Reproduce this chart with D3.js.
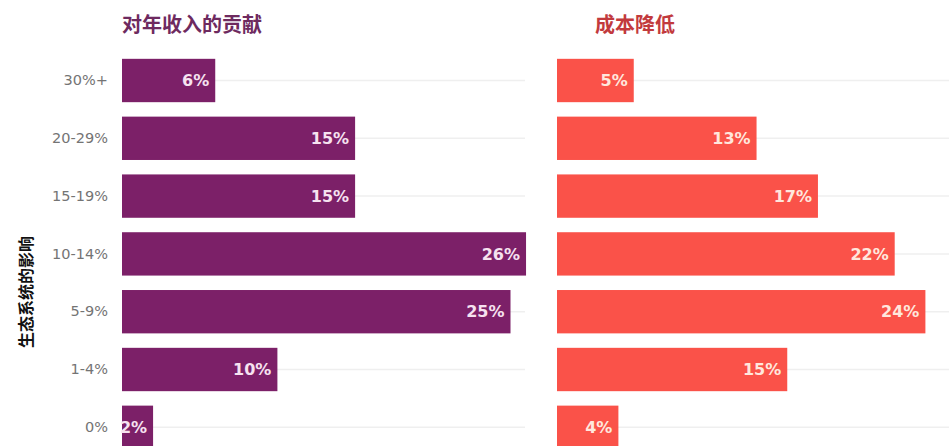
<!DOCTYPE html>
<html>
<head>
<meta charset="utf-8">
<script src="https://cdn.jsdelivr.net/npm/d3@7"></script>
<style>
  html, body { margin: 0; padding: 0; background: #fff; }
  svg { display: block; }
</style>
</head>
<body>
<svg id="chart" width="949" height="446"></svg>
<script>
// Impact on the ecosystem, by bucket
const categories = ["30%+", "20-29%", "15-19%", "10-14%", "5-9%", "1-4%", "0%"];
const revenueValues = [6, 15, 15, 26, 25, 10, 2];
const costValues = [5, 13, 17, 22, 24, 15, 4];
const panelTitles = ["对年收入的贡献", "成本降低"];
const axisTitle = "生态系统的影响";

const svg = d3.select("#chart");
const W = 949;

const y = d3.scaleBand()
  .domain(categories)
  .range([51.6, 51.6 + 7 * 57.8])
  .paddingInner(0.25)
  .paddingOuter(0.125);

const panels = [
  { title: panelTitles[0], values: revenueValues, x0: 122, pxPer: 15.54, gridEnd: 525,
    fill: "#7c2068", labelFill: "#f6e2f0", titleFill: "#6e2a5f", titleX: 122 },
  { title: panelTitles[1], values: costValues, x0: 557, pxPer: 15.35, gridEnd: W,
    fill: "#fa5249", labelFill: "#ffe7dd", titleFill: "#c23a3d", titleX: 595 }
];

panels.forEach(p => {
  const maxV = d3.max(p.values);
  const x = d3.scaleLinear().domain([0, maxV]).range([p.x0, p.x0 + maxV * p.pxPer]);
  const g = svg.append("g");

  // faint row guides
  g.selectAll("line.grid")
    .data(categories)
    .join("line")
    .attr("class", "grid")
    .attr("x1", p.x0)
    .attr("x2", p.gridEnd)
    .attr("y1", d => y(d) + y.bandwidth() / 2)
    .attr("y2", d => y(d) + y.bandwidth() / 2)
    .attr("stroke", "#efefef")
    .attr("stroke-width", 1.5);

  g.selectAll("rect.bar")
    .data(p.values)
    .join("rect")
    .attr("class", "bar")
    .attr("x", x(0))
    .attr("y", (d, i) => y(categories[i]))
    .attr("width", d => x(d) - x(0))
    .attr("height", y.bandwidth())
    .attr("fill", p.fill);

  g.selectAll("text.val")
    .data(p.values)
    .join("text")
    .attr("class", "val")
    .attr("x", d => x(d) - 6)
    .attr("y", (d, i) => y(categories[i]) + y.bandwidth() / 2)
    .attr("dy", "0.36em")
    .attr("text-anchor", "end")
    .attr("font-family", "DejaVu Sans, Verdana, sans-serif")
    .attr("font-weight", "bold")
    .attr("font-size", 16)
    .attr("fill", p.labelFill)
    .text(d => d + "%");

  svg.append("text")
    .attr("x", p.titleX)
    .attr("y", 25)
    .attr("dy", "0.36em")
    .attr("font-family", "Noto Sans CJK SC, sans-serif")
    .attr("font-weight", "bold")
    .attr("font-size", 20)
    .attr("fill", p.titleFill)
    .text(p.title);
});

// category axis on the left
const yAxis = d3.axisLeft(y).tickSize(0).tickPadding(0);
const ag = svg.append("g")
  .attr("transform", "translate(108,0)")
  .call(yAxis);
ag.select(".domain").remove();
ag.selectAll("text")
  .attr("font-family", "DejaVu Sans, Verdana, sans-serif")
  .attr("font-size", 14.5)
  .attr("fill", "#747474");

svg.append("text")
  .attr("transform", "translate(26,292) rotate(-90)")
  .attr("text-anchor", "middle")
  .attr("dy", "0.36em")
  .attr("font-family", "Noto Sans CJK SC, sans-serif")
  .attr("font-weight", "bold")
  .attr("font-size", 16)
  .attr("fill", "#111")
  .text(axisTitle);
</script>
</body>
</html>
